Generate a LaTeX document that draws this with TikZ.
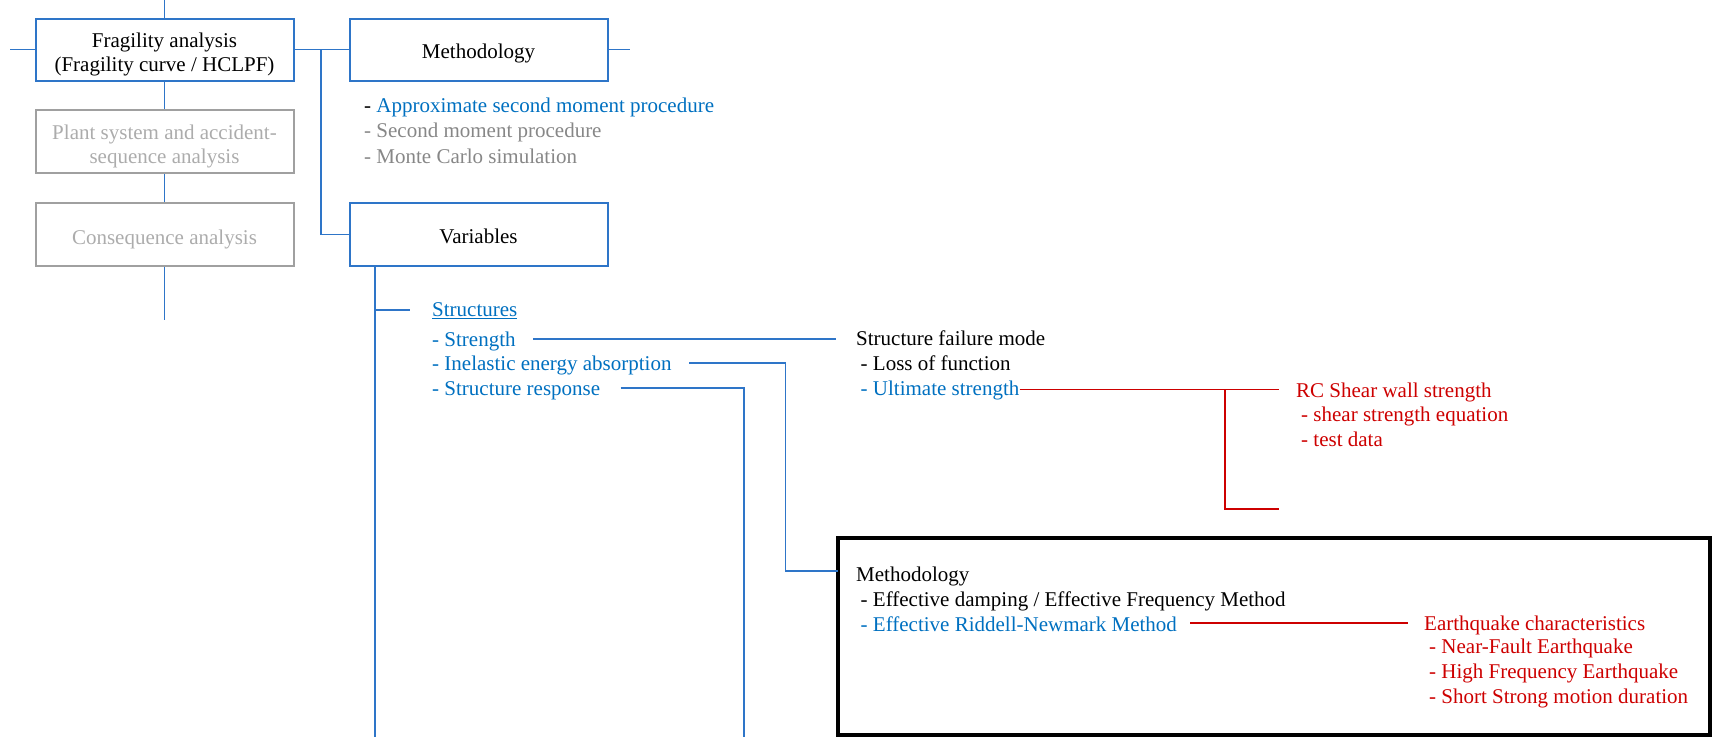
\documentclass[tikz,border=0pt]{standalone}
\usepackage{fontspec}
\setmainfont{Liberation Serif}
\newfontfamily\tnr{Liberation Serif}
\definecolor{cblue}{RGB}{0,112,192}
\definecolor{lblue}{RGB}{46,117,200}
\definecolor{cgray}{RGB}{160,160,160}
\definecolor{tgray}{RGB}{172,172,172}
\definecolor{lgray}{RGB}{135,135,135}
\definecolor{cred}{RGB}{205,0,0}
\tikzset{
  txt/.style={anchor=base west,inner sep=0pt,yshift=-1.8pt,font=\tnr\fontsize{21}{25}\selectfont},
  ctxt/.style={anchor=base,inner sep=0pt,yshift=-1.5pt,font=\tnr\fontsize{21}{25}\selectfont},
  bbox/.style={draw=lblue,line width=2pt,minimum width=258pt,minimum height=62.5pt,inner sep=0pt},
  gbox/.style={bbox,draw=cgray},
  bl/.style={draw=lblue,line width=1.3pt},
  rl/.style={draw=cred,line width=1.3pt},
}
\begin{document}
\begin{tikzpicture}[x=1pt,y=-1pt]
\useasboundingbox (0,0) rectangle (1713,737);
% boxes
\node[bbox] (frag) at (164.5,49.8) {};
\node[gbox] (plant) at (164.5,141.5) {};
\node[gbox] (cons) at (164.5,234.4) {};
\node[bbox] (meth) at (478.5,49.8) {};
\node[bbox] (vars) at (478.5,234.4) {};
\node[ctxt] (frag1) at (164.5,46) {Fragility analysis};
\node[ctxt] (frag2) at (164.5,70) {(Fragility curve / HCLPF)};
\node[ctxt,text=tgray] (plant1) at (164.5,138) {Plant system and accident-};
\node[ctxt,text=tgray] (plant2) at (164.5,161.7) {sequence analysis};
\node[ctxt,text=tgray] (cons1) at (164.5,242.5) {Consequence analysis};
\node[ctxt] (meth1) at (478.5,57.3) {Methodology};
\node[ctxt] (vars1) at (478.5,241.8) {Variables};
\coordinate (ftop) at (164.5,0);
\coordinate (fleft) at (10,49.8);
\coordinate (cbot) at (164.5,320);
\coordinate (mright) at (630,49.8);
\coordinate (br) at (321,49.8);
\coordinate (vbot) at (375,737);
% connectors
\draw[bl] (frag.north) -- (ftop);
\draw[bl] (frag.west) -- (fleft);
\draw[bl] (frag.south) -- (plant.north);
\draw[bl] (plant.south) -- (cons.north);
\draw[bl] (cons.south) -- (cbot);
\draw[bl] (frag.east) -- (meth.west);
\draw[bl] (br) |- (vars.west);
\draw[bl] (meth.east) -- (mright);
\draw[bl] (vars.south -| vbot) -- (vbot);
% methodology list
\node[txt] (m1) at (364,110.7) {- \textcolor{cblue}{Approximate second moment procedure}};
\node[txt,text=lgray] (m2) at (364,135.7) {- Second moment procedure};
\node[txt,text=lgray] (m3) at (364,161.2) {- Monte Carlo simulation};
% variables list
\node[txt,text=cblue] (st) at (432,314.3) {\underline{Structures}};
\coordinate (stb) at (375,310);
\coordinate (stc) at (410,310);
\draw[bl] (stb) -- (stc);
\node[txt,text=cblue] (s1) at (432,344.3) {- Strength};
\node[txt,text=cblue] (s2) at (432,368.5) {- Inelastic energy absorption};
\node[txt,text=cblue] (s3) at (432,393.5) {- Structure response};
% failure mode
\node[txt] (f0) at (856,344) {Structure failure mode};
\node[txt] (f1) at (860.5,368.3) {- Loss of function};
\node[txt,text=cblue] (f2) at (860.5,393.3) {- Ultimate strength};
% RC
\node[txt,text=cred] (rc) at (1296,396) {RC Shear wall strength};
\node[txt,text=cred] (rc1) at (1301,420) {- shear strength equation};
\node[txt,text=cred] (rc2) at (1301,444.5) {- test data};
% big box
\draw[line width=4pt] (838,538) rectangle (1710,735);
\coordinate (bigw) at (838,571);
\node[txt] (bm0) at (856,580) {Methodology};
\node[txt] (bm1) at (860.5,604.5) {- Effective damping / Effective Frequency Method};
\node[txt,text=cblue] (bm2) at (860.5,629.5) {- Effective Riddell-Newmark Method};
\node[txt,text=cred] (eq0) at (1424,629) {Earthquake characteristics};
\node[txt,text=cred] (eq1) at (1429,652) {- Near-Fault Earthquake};
\node[txt,text=cred] (eq2) at (1429,677) {- High Frequency Earthquake};
\node[txt,text=cred] (eq3) at (1429,702) {- Short Strong motion duration};
% blue connectors
\coordinate (s1a) at (533,339);
\coordinate (s1b) at (836,339);
\draw[bl] (s1a) -- (s1b);
\coordinate (s2a) at (689,363);
\coordinate (s2b) at (785.5,363);
\draw[bl] (s2a) -- (s2b) |- (bigw);
\coordinate (s3a) at (620.5,388);
\coordinate (s3b) at (744,388);
\coordinate (s3c) at (744,737);
\draw[bl] (s3a) -- (s3b) -- (s3c);
% red connectors
\coordinate (r1) at (1279,389.5);
\coordinate (r2) at (1225,389.5);
\coordinate (r3) at (1279,509);
\draw[rl] (f2.east |- r1) -- (r1);
\draw[rl] (r2) |- (r3);
\coordinate (e1) at (1190,623);
\coordinate (e2) at (1408,623);
\draw[rl] (e1) -- (e2);
\end{tikzpicture}
\end{document}
